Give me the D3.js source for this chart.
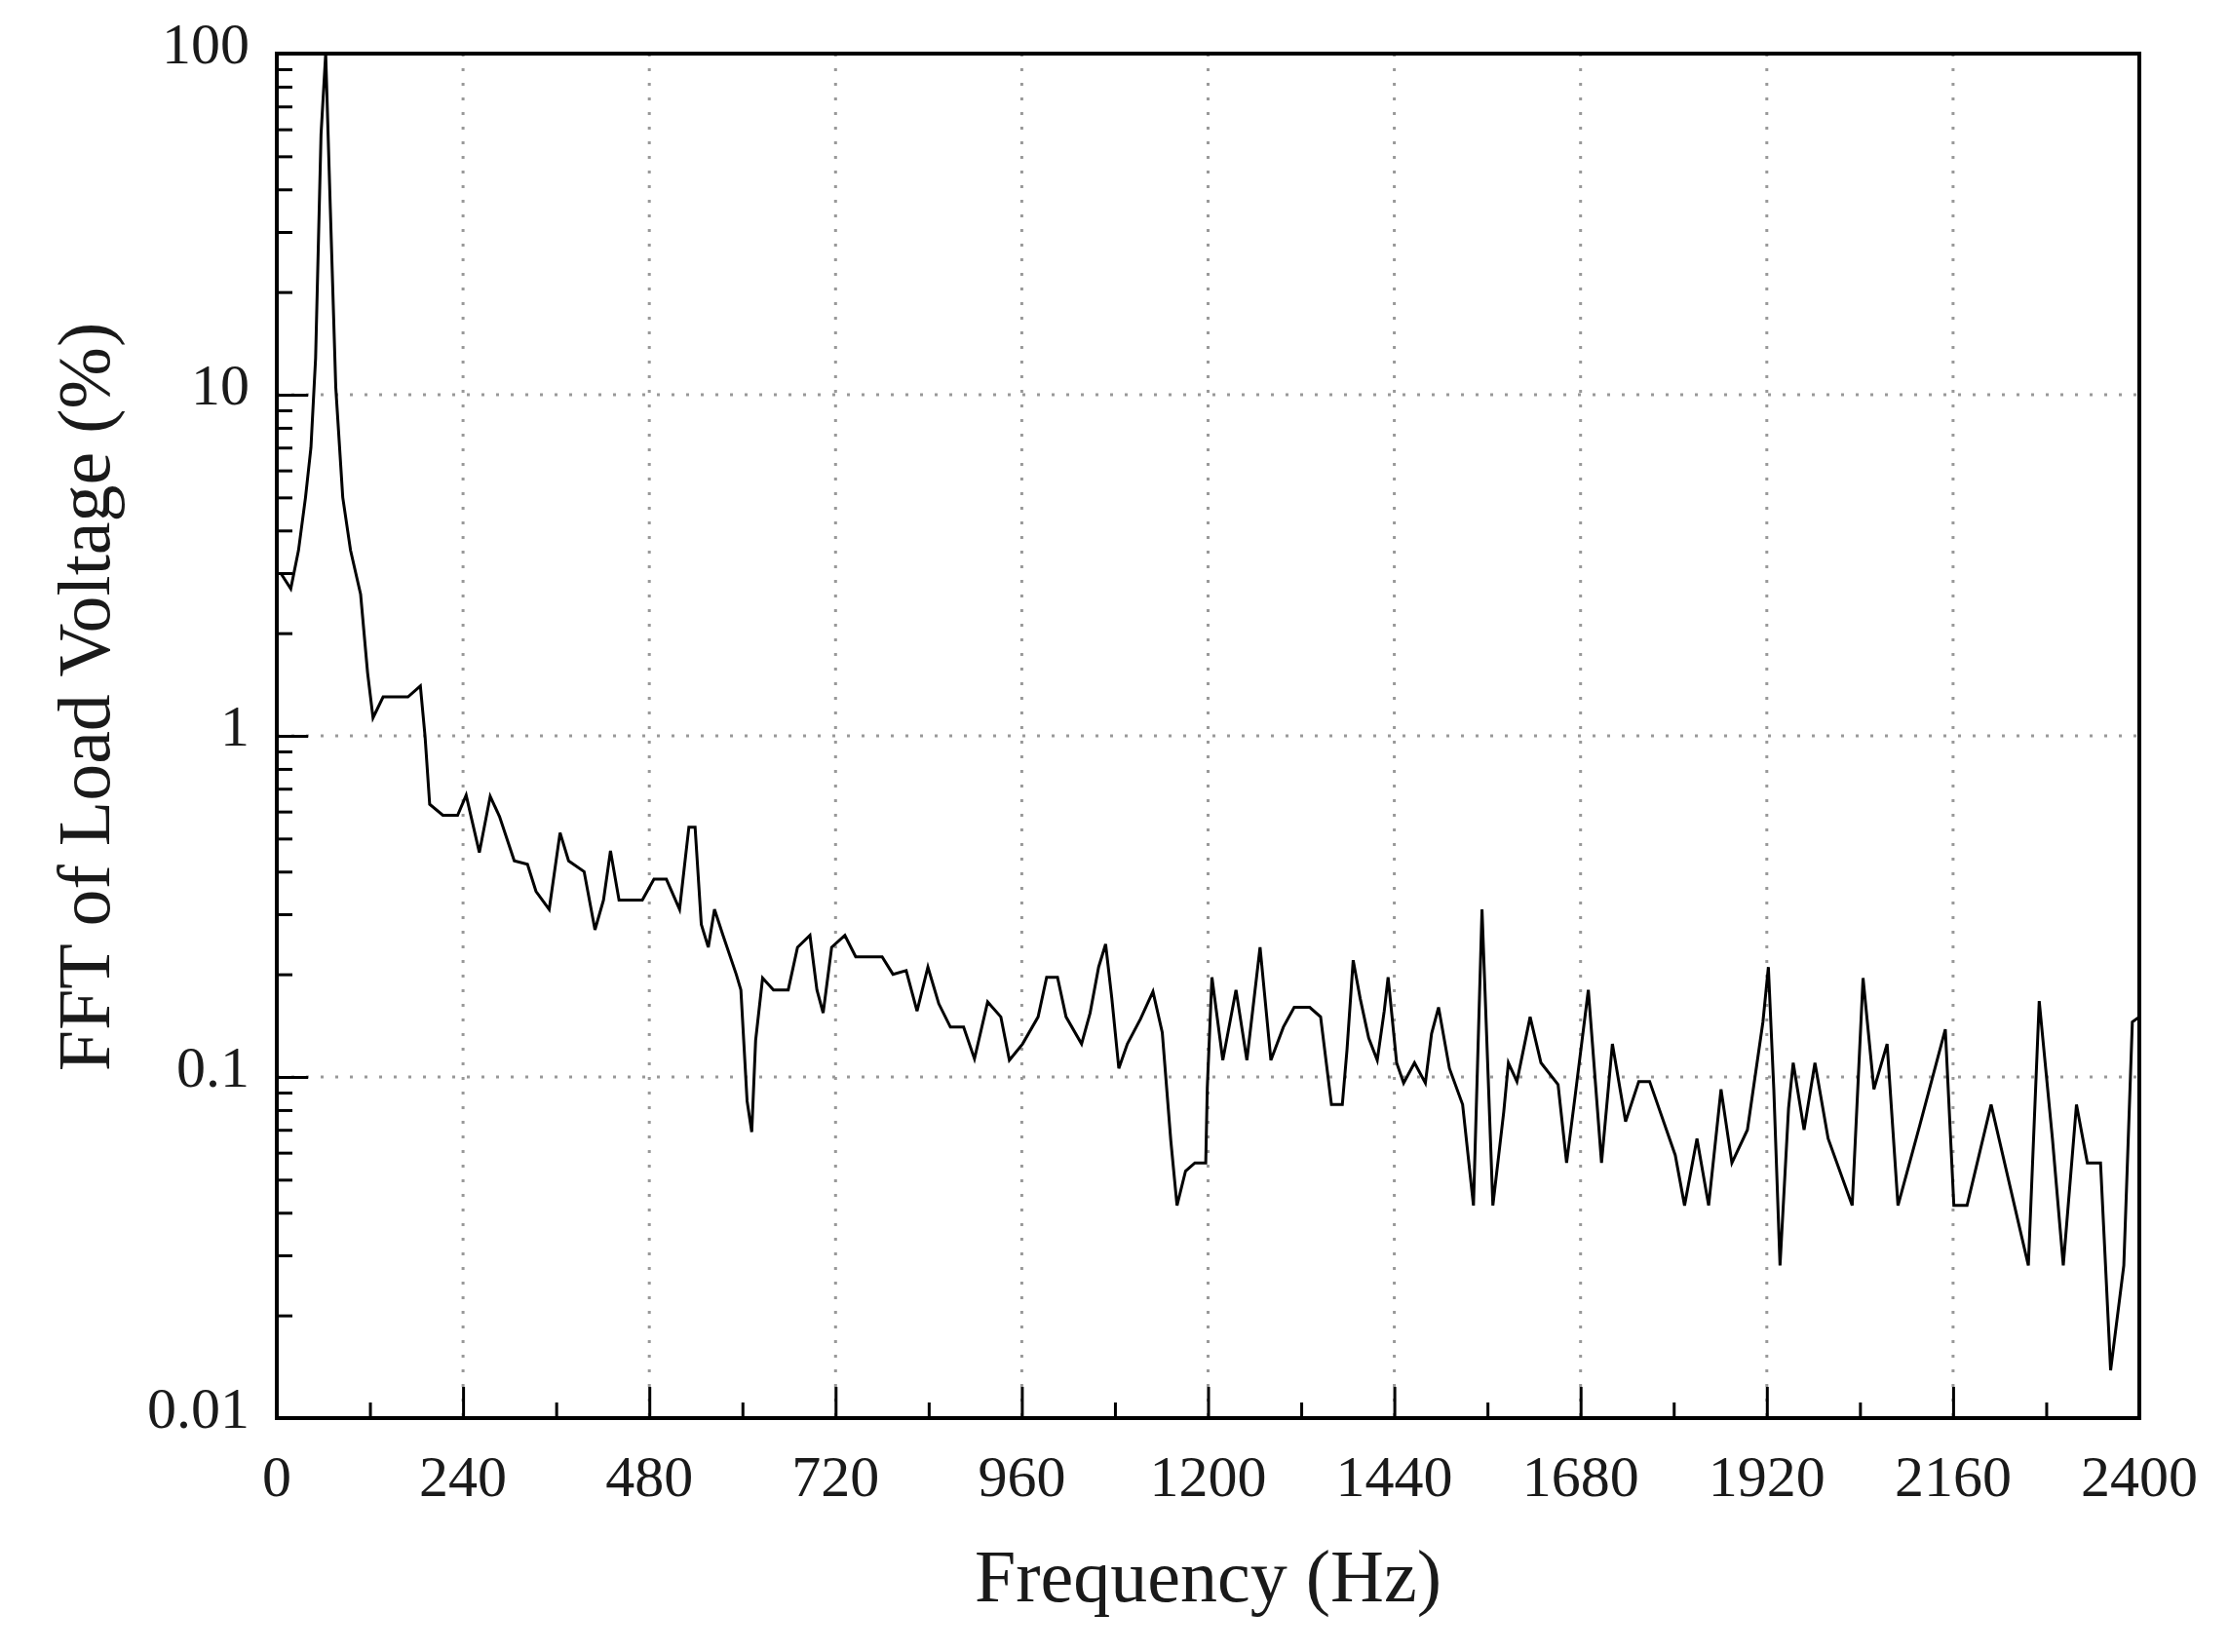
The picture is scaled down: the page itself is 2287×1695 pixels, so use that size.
<!DOCTYPE html>
<html>
<head>
<meta charset="utf-8">
<script src="https://cdn.jsdelivr.net/npm/d3@7"></script>
<style>
  body { margin: 0; background: #fff; }
  text { font-family: "Liberation Serif", "Times New Roman", serif; fill: #1a1a1a; }
</style>
</head>
<body>
<svg id="chart" width="2287" height="1695"></svg>
<script>
// frequency (Hz) of each spectrum vertex
const freqs = [5, 18, 28, 37, 44, 50, 57, 63, 69, 76, 85, 95, 108, 117, 124, 137, 169, 185, 191,
  197, 214, 233, 244, 261, 275, 287, 306, 323, 334, 351, 365, 376, 396, 410, 421, 430, 441, 471, 486,
  502, 519, 531, 539, 547, 556, 564, 575, 592, 598, 606, 612, 617, 626, 640, 659, 671, 687, 696, 704,
  715, 732, 746, 780, 794, 811, 825, 839, 853, 868, 885, 899, 916, 933, 944, 961, 981, 992, 1006,
  1017, 1037, 1048, 1059, 1068, 1076, 1085, 1096, 1113, 1129, 1141, 1152, 1160, 1171, 1183, 1197,
  1199, 1205, 1219, 1236, 1250, 1267, 1281, 1297, 1311, 1331, 1345, 1359, 1373, 1379, 1387, 1396,
  1407, 1418, 1427, 1432, 1443, 1452, 1466, 1480, 1488, 1497, 1511, 1528, 1542, 1553, 1567, 1581,
  1587, 1598, 1615, 1629, 1651, 1662, 1673, 1690, 1707, 1721, 1738, 1755, 1769, 1802, 1814, 1830,
  1845, 1861, 1875, 1895, 1915, 1922, 1929, 1937, 1948, 1954, 1968, 1982, 1999, 2030, 2044, 2058,
  2075, 2089, 2117, 2150, 2161, 2178, 2209, 2257, 2271, 2288, 2302, 2319, 2333, 2350, 2363, 2380,
  2391, 2400];
// FFT magnitude (%) at those vertices
const fftValues = [3.0, 2.7, 3.5, 5.0, 7, 12.8, 58, 100, 35, 10.5, 5, 3.5, 2.6, 1.53, 1.13, 1.3, 1.3, 1.4, 1.0,
  0.63, 0.585, 0.585, 0.67, 0.455, 0.665, 0.58, 0.43, 0.42, 0.35, 0.31, 0.52, 0.43, 0.4, 0.27, 0.33, 0.46, 0.33, 0.33, 0.38,
  0.38, 0.31, 0.54, 0.54, 0.28, 0.24, 0.31, 0.26, 0.2, 0.18, 0.085, 0.069, 0.128, 0.195, 0.18, 0.18, 0.24, 0.26, 0.18, 0.154,
  0.24, 0.26, 0.225, 0.225, 0.2, 0.205, 0.156, 0.21, 0.164, 0.14, 0.14, 0.113, 0.166, 0.15, 0.112, 0.125, 0.15, 0.196, 0.196,
  0.15, 0.125, 0.154, 0.21, 0.245, 0.17, 0.106, 0.125, 0.148, 0.178, 0.135, 0.065, 0.042, 0.053, 0.056, 0.056,
  0.093, 0.196, 0.112, 0.18, 0.112, 0.24, 0.112, 0.14, 0.16, 0.16, 0.15, 0.083, 0.083, 0.12, 0.22, 0.17,
  0.13, 0.112, 0.156, 0.196, 0.11, 0.096, 0.11, 0.096, 0.134, 0.16, 0.106, 0.083, 0.042, 0.31, 0.042, 0.079,
  0.11, 0.097, 0.15, 0.11, 0.095, 0.056, 0.088, 0.18, 0.056, 0.125, 0.074, 0.097, 0.097, 0.059, 0.042, 0.066,
  0.042, 0.092, 0.056, 0.07, 0.145, 0.21, 0.092, 0.028, 0.081, 0.11, 0.07, 0.11, 0.066, 0.042, 0.195, 0.092,
  0.125, 0.042, 0.072, 0.138, 0.042, 0.042, 0.083, 0.028, 0.167, 0.066, 0.028, 0.083, 0.056, 0.056, 0.0138, 0.028,
  0.145, 0.15];
const xTicks = [0, 240, 480, 720, 960, 1200, 1440, 1680, 1920, 2160, 2400];
const yTicks = [0.01, 0.1, 1, 10, 100];
const yTickLabels = ["0.01", "0.1", "1", "10", "100"];

const svg = d3.select("#chart");
const m = { left: 284, top: 55, right: 2195, bottom: 1455 };

const x = d3.scaleLinear().domain([0, 2400]).range([m.left, m.right]);
const y = d3.scaleLog().domain([0.01, 100]).range([m.bottom, m.top]);

// dotted grid
const grid = svg.append("g");
grid.selectAll(".gx").data(xTicks.slice(1, -1)).join("line")
    .attr("x1", d => x(d)).attr("x2", d => x(d))
    .attr("y1", m.top).attr("y2", m.bottom)
    .attr("stroke", "#999").attr("stroke-width", 3).attr("stroke-dasharray", "3 12");
grid.selectAll(".gy").data([0.1, 1, 10]).join("line")
    .attr("x1", m.left).attr("x2", m.right)
    .attr("y1", d => y(d)).attr("y2", d => y(d))
    .attr("stroke", "#999").attr("stroke-width", 3).attr("stroke-dasharray", "3 12");

// inward ticks
const minorX = d3.range(120, 2400, 240);
svg.append("g").attr("transform", `translate(0,${m.bottom})`)
   .call(d3.axisTop(x).tickValues(xTicks).tickSize(32).tickFormat(""))
   .call(g => g.select(".domain").remove())
   .selectAll("line").attr("stroke-width", 3);
svg.append("g").attr("transform", `translate(0,${m.bottom})`)
   .call(d3.axisTop(x).tickValues(minorX).tickSize(16).tickFormat(""))
   .call(g => g.select(".domain").remove())
   .selectAll("line").attr("stroke-width", 3);

const minorY = [];
[0.01, 0.1, 1, 10].forEach(dec => { for (let k = 2; k <= 9; k++) minorY.push(dec * k); });
svg.append("g").attr("transform", `translate(${m.left},0)`)
   .call(d3.axisRight(y).tickValues(yTicks).tickSize(32).tickFormat(""))
   .call(g => g.select(".domain").remove())
   .selectAll("line").attr("stroke-width", 3);
svg.append("g").attr("transform", `translate(${m.left},0)`)
   .call(d3.axisRight(y).tickValues(minorY).tickSize(16).tickFormat(""))
   .call(g => g.select(".domain").remove())
   .selectAll("line").attr("stroke-width", 3);

// tick labels
svg.append("g").selectAll("text").data(xTicks).join("text")
   .attr("x", d => x(d)).attr("y", 1535)
   .attr("text-anchor", "middle").attr("font-size", 60)
   .text(d => d);
svg.append("g").selectAll("text").data(yTicks).join("text")
   .attr("x", 256).attr("y", d => y(d) + 10)
   .attr("text-anchor", "end").attr("font-size", 60)
   .text((d, i) => yTickLabels[i]);

// spectrum line
const line = d3.line().x((d, i) => x(freqs[i])).y(d => y(d));
svg.append("path").datum(fftValues)
   .attr("d", line).attr("fill", "none")
   .attr("stroke", "#000").attr("stroke-width", 3).attr("stroke-linejoin", "miter");

// frame
svg.append("rect").attr("x", m.left).attr("y", m.top)
   .attr("width", m.right - m.left).attr("height", m.bottom - m.top)
   .attr("fill", "none").attr("stroke", "#000").attr("stroke-width", 4);

// axis titles
svg.append("text").attr("x", (m.left + m.right) / 2).attr("y", 1643)
   .attr("text-anchor", "middle").attr("font-size", 76).text("Frequency (Hz)");
svg.append("text").attr("transform", "translate(112,715) rotate(-90)")
   .attr("text-anchor", "middle").attr("font-size", 76).text("FFT of Load Voltage (%)");
</script>
</body>
</html>
